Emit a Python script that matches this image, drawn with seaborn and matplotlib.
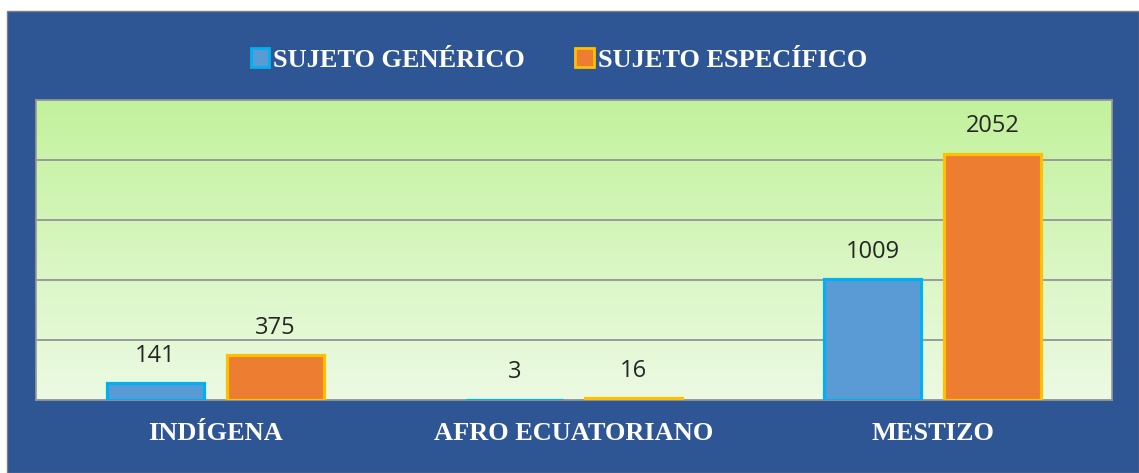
import numpy as np
import pandas as pd
import matplotlib
matplotlib.use("Agg")
import matplotlib.pyplot as plt
from matplotlib.patches import Rectangle, Patch
import seaborn as sns

# data
categorias = ["INDÍGENA", "AFRO ECUATORIANO", "MESTIZO"]
series = ["SUJETO GENÉRICO", "SUJETO ESPECÍFICO"]
generico = [141, 3, 1009]
especifico = [375, 16, 2052]

df = pd.DataFrame({
    "categoria": categorias * 2,
    "serie": [series[0]] * 3 + [series[1]] * 3,
    "valor": generico + especifico,
})

fill = {series[0]: "#5B9BD5", series[1]: "#ED7D31"}
edge = {series[0]: "#00B0F0", series[1]: "#FFC000"}
navy = "#2E5594"

sns.set_style("white")
plt.rcParams["font.family"] = ["DejaVu Sans"]

fig = plt.figure(figsize=(11.39, 4.73), dpi=100, facecolor="white")
# blue panel behind everything
fig.patches.append(Rectangle((7 / 1139, 0), 1 - 7 / 1139, 1 - 11 / 473,
                             transform=fig.transFigure, facecolor=navy,
                             edgecolor="#7F7F7F", linewidth=1, zorder=-10))

ax = fig.add_axes([36 / 1139, 1 - 400 / 473, (1112 - 36) / 1139, 300 / 473])

# gradient background
grad = np.linspace(0, 1, 256).reshape(-1, 1)
top = np.array([0xC2, 0xF2, 0x9C]) / 255
bot = np.array([0xEC, 0xFA, 0xE3]) / 255
img = bot + (top - bot) * grad
ax.imshow(img[:, None, :].repeat(2, axis=1), extent=[-0.5, 2.5, 0, 2500],
          origin="lower", aspect="auto", zorder=0)

sns.barplot(data=df, x="categoria", y="valor", hue="serie", order=categorias,
            hue_order=series, width=0.667, ax=ax, legend=False, zorder=3)

for i, s in enumerate(series):
    for bar in ax.containers[i]:
        w = bar.get_width()
        bar.set_x(bar.get_x() + w * 0.095)
        bar.set_width(w * 0.81)
        bar.set_facecolor(fill[s])
        bar.set_edgecolor(edge[s])
        bar.set_linewidth(2.3)
    labels = [str(v) for v in (generico if i == 0 else especifico)]
    ax.bar_label(ax.containers[i], labels=labels, padding=11, fontsize=17,
                 color="#262626", family=["Open Sans", "DejaVu Sans"])

ax.set_xlim(-0.5, 2.5)
ax.set_ylim(0, 2500)
ax.set_yticks([0, 500, 1000, 1500, 2000, 2500])
ax.yaxis.grid(True, color="#9A9A9A", linewidth=1.4, zorder=1)
ax.set_axisbelow(True)
ax.tick_params(axis="y", left=False, labelleft=False)
ax.tick_params(axis="x", bottom=False, pad=12)
ax.set_xlabel("")
ax.set_ylabel("")
for lab in ax.get_xticklabels():
    lab.set_family(["Liberation Serif"])
    lab.set_fontweight("bold")
    lab.set_fontsize(19)
    lab.set_color("white")
for sp in ax.spines.values():
    sp.set_color("#9A9A9A")
    sp.set_linewidth(1.2)

handles = [Patch(facecolor=fill[s], edgecolor=edge[s], linewidth=2, label=s)
           for s in series]
fig.legend(handles=handles, loc="center", bbox_to_anchor=(559 / 1139, 1 - 60 / 473),
           ncol=2, frameon=False, handlelength=0.7, handleheight=0.7,
           handletextpad=0.15, columnspacing=1.9,
           prop={"family": "Liberation Serif", "weight": "bold", "size": 19},
           labelcolor="white")

fig.savefig("out.png", dpi=100, facecolor="white")
